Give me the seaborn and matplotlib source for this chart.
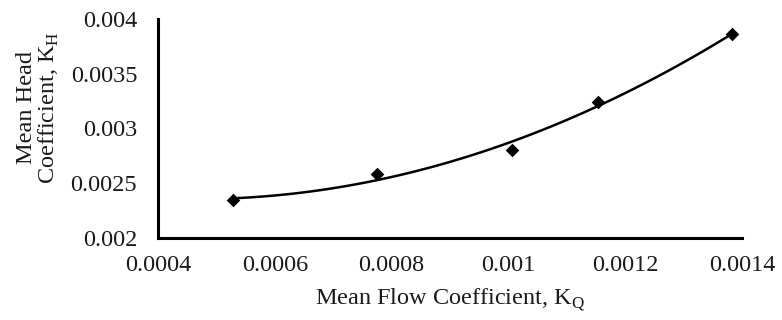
import matplotlib
matplotlib.use("Agg")
import matplotlib.pyplot as plt
import seaborn as sns
import pandas as pd

flow_coeff = [0.000528, 0.000775, 0.001006, 0.001153, 0.001383]
head_coeff = [0.002347, 0.002584, 0.002804, 0.003242, 0.003863]
x_ticks = [0.0004, 0.0006, 0.0008, 0.001, 0.0012, 0.0014]
x_tick_labels = ["0.0004", "0.0006", "0.0008", "0.001", "0.0012", "0.0014"]
y_ticks = [0.002, 0.0025, 0.003, 0.0035, 0.004]
y_tick_labels = ["0.002", "0.0025", "0.003", "0.0035", "0.004"]

df = pd.DataFrame({"KQ": flow_coeff, "KH": head_coeff})

sns.set_style("white")
plt.rcParams["font.family"] = ["Liberation Serif", "DejaVu Serif"]
plt.rcParams["mathtext.fontset"] = "custom"
plt.rcParams["mathtext.rm"] = "Liberation Serif"

fig = plt.figure(figsize=(7.82, 3.2), dpi=100)
ax = fig.add_axes([0.202, 0.256, 0.747, 0.685])

sns.regplot(data=df, x="KQ", y="KH", order=2, ci=None, ax=ax,
            marker="D",
            scatter_kws={"color": "black", "s": 48, "alpha": 1, "zorder": 3,
                         "linewidths": 0},
            line_kws={"color": "black", "linewidth": 1.8})

ax.set_xlim(0.0004, 0.0014)
ax.set_ylim(0.002, 0.004)
ax.set_xticks(x_ticks)
ax.set_xticklabels(x_tick_labels)
ax.set_yticks(y_ticks)
ax.set_yticklabels(y_tick_labels)
ax.tick_params(axis="both", length=0, labelsize=17.5, colors="#1a1a1a")
ax.tick_params(axis="x", pad=12)
ax.tick_params(axis="y", pad=15)

for s in ["top", "right"]:
    ax.spines[s].set_visible(False)
for s in ["left", "bottom"]:
    ax.spines[s].set_color("black")
    ax.spines[s].set_linewidth(2.2)

ax.set_xlabel("Mean Flow Coefficient, K$_\\mathrm{Q}$", fontsize=17.5, color="#1a1a1a")
ax.set_ylabel("Mean Head\nCoefficient, K$_\\mathrm{H}$", fontsize=17.5, color="#1a1a1a",
              linespacing=1.0)
ax.yaxis.set_label_coords(-0.205, 0.594)
ax.xaxis.set_label_coords(0.5, -0.283)
ax.xaxis.label.set_va("center")
ax.yaxis.label.set_va("center")

fig.savefig("out.png", dpi=100)
